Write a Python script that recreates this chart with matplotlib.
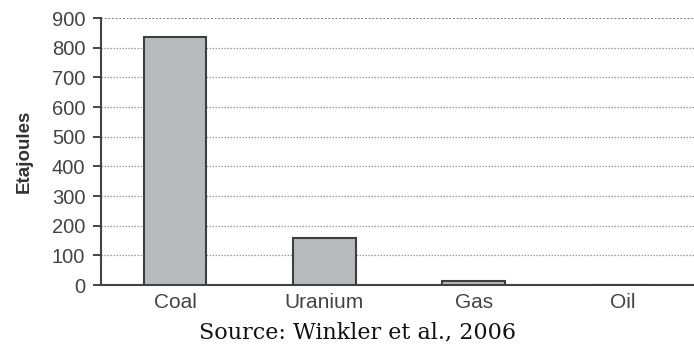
import matplotlib
matplotlib.use("Agg")
import matplotlib.pyplot as plt

categories = ["Coal", "Uranium", "Gas", "Oil"]
values = [836, 160, 12, 0]
yticks = [0, 100, 200, 300, 400, 500, 600, 700, 800, 900]

fig = plt.figure(figsize=(6.94, 3.48), dpi=100)
ax = fig.add_axes([0.1455, 0.181, 0.8545, 0.767])

x = list(range(len(categories)))
ax.bar(x, values, width=0.42, color="#b9babe", edgecolor="#3f3f3f", linewidth=1.5, zorder=3)

ax.set_ylim(0, 900)
ax.set_xlim(-0.496, 3.476)
ax.set_yticks(yticks)
ax.set_yticklabels([str(t) for t in yticks], fontsize=14.5, color="#444444",
                   family="Liberation Sans")
ax.set_xticks(x)
ax.set_xticklabels(categories, fontsize=15, color="#444444", family="Liberation Sans")
ax.tick_params(axis="x", length=0, pad=6)
ax.tick_params(axis="y", length=5.8, width=1.4, color="#444444", pad=5.5)

for t in yticks[1:-1]:
    ax.axhline(t, color="#9a9a9a", linestyle=(0, (1.2, 1.2)), linewidth=0.9, zorder=1)
ax.axhline(yticks[-1], color="#555555", linestyle=(0, (1.2, 1.2)), linewidth=1.1, zorder=1)

for s in ["top", "right"]:
    ax.spines[s].set_visible(False)
ax.spines["left"].set_color("#444444")
ax.spines["left"].set_linewidth(1.5)
ax.spines["bottom"].set_color("#444444")
ax.spines["bottom"].set_linewidth(1.5)

ax.set_ylabel("Etajoules", fontsize=13.5, fontweight="bold", color="#333333",
              family="Liberation Sans")
ax.yaxis.set_label_coords(-0.115, 0.5)

fig.text(0.5145, 0.0287, "Source: Winkler et al., 2006", ha="center", va="baseline",
         fontsize=16, family="DejaVu Serif", color="#111111")

fig.savefig("out.png", dpi=100)
